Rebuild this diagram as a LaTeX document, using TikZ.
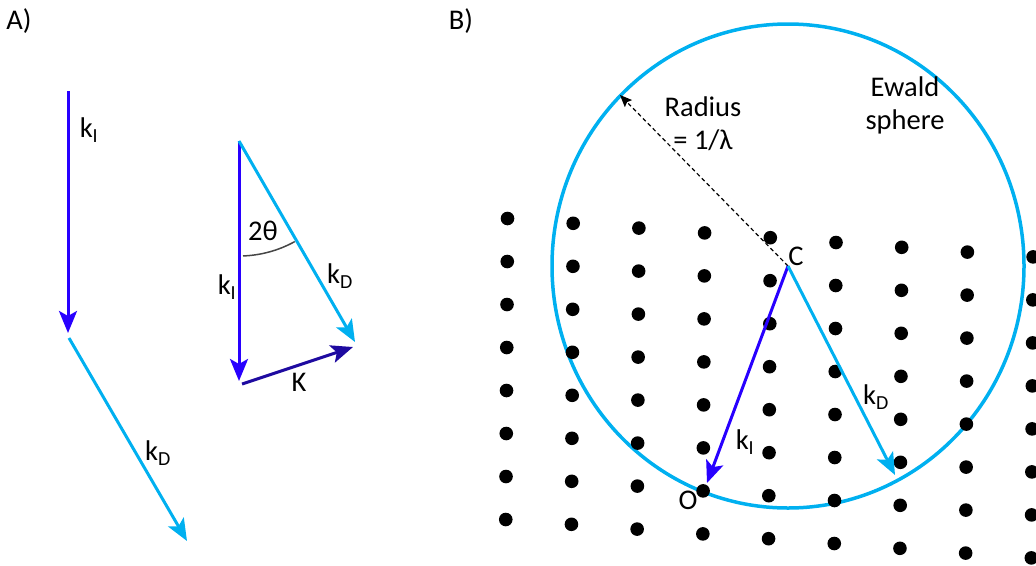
\documentclass[tikz,border=0pt]{standalone}
\usepackage{fontspec}
\setmainfont{Carlito}
\usetikzlibrary{arrows.meta}
\definecolor{kblue}{RGB}{40,0,255}
\definecolor{klight}{RGB}{0,176,240}
\definecolor{kdark}{RGB}{30,10,160}
\definecolor{arcgray}{RGB}{70,70,70}
\begin{document}
\begin{tikzpicture}[x=1pt,y=-1pt,
  font=\fontsize{28.5}{33}\selectfont,
  vec/.style={line width=3pt,-{Stealth[length=22pt,width=18pt,inset=5pt]}},
  lab/.style={inner sep=0pt,outer sep=0pt},
  radline/.style={line width=1.2pt,dash pattern=on 4pt off 3pt,-{Stealth[length=12pt,width=10pt,inset=2pt]}},
  sphere/.style={klight,line width=3.5pt}]
\useasboundingbox (0,0) rectangle (1036,565);

% panel labels
\node[lab] (labA) at (19,21) {A)};
\node[lab] (labB) at (461,21) {B)};

% ---- Panel A: separate vectors
\coordinate (a1) at (68,91);
\coordinate (a2) at (68,333);
\coordinate (a3) at (69,338);
\coordinate (a4) at (187,541);
\draw[vec,kblue] (a1) -- (a2);
\draw[vec,klight] (a3) -- (a4);
\node[lab] (akI) at (89,130) {k\textsubscript{I}};
\node[lab] (akD) at (158,453) {k\textsubscript{D}};

% ---- Panel A: triangle
\coordinate (T) at (239,141);
\coordinate (TkI) at (239,381);
\coordinate (TkD) at (355,342);
\coordinate (Ks) at (242,384);
\coordinate (Ke) at (353,347);
\draw[vec,kblue] (T) -- (TkI);
\draw[vec,klight] (T) -- (TkD);
\draw[vec,kdark] (Ks) -- (Ke);
\draw[arcgray,line width=1.5pt] ([shift={(88:115)}]T) arc[start angle=88,end angle=61,radius=115];
\node[lab] (t2) at (263,231) {2θ};
\node[lab] (tkI) at (227,287) {k\textsubscript{I}};
\node[lab] (tkD) at (340,276) {k\textsubscript{D}};
\node[lab] (tK) at (299,382) {K};

% ---- Panel B: Ewald sphere
\coordinate (C) at (788,266);
\coordinate (R) at (620,95);
\coordinate (O) at (707,483);
\coordinate (D) at (895,475);
\draw[sphere] (C) ellipse[x radius=236,y radius=242];
\foreach \i in {0,...,8}{
  \foreach \j in {0,...,7}{
    \fill ({507.5+65.7*\i-0.25*\j},{218.5+4.8*\i+43*\j}) circle[radius=6.8];
  }
}
\draw[radline] (C) -- (R);
\draw[vec,kblue] (C) -- (O);
\draw[vec,klight] (C) -- (D);
\node[lab] (lC) at (796,256) {C};
\node[lab] (lO) at (688,500) {O};
\node[lab] (bkI) at (745,442) {k\textsubscript{I}};
\node[lab] (bkD) at (876,397) {k\textsubscript{D}};
\node[lab,align=center] (lR) at (703,124) {Radius\\= 1/λ};
\node[lab,align=center] (lE) at (905,105) {Ewald\\sphere};
\end{tikzpicture}
\end{document}
